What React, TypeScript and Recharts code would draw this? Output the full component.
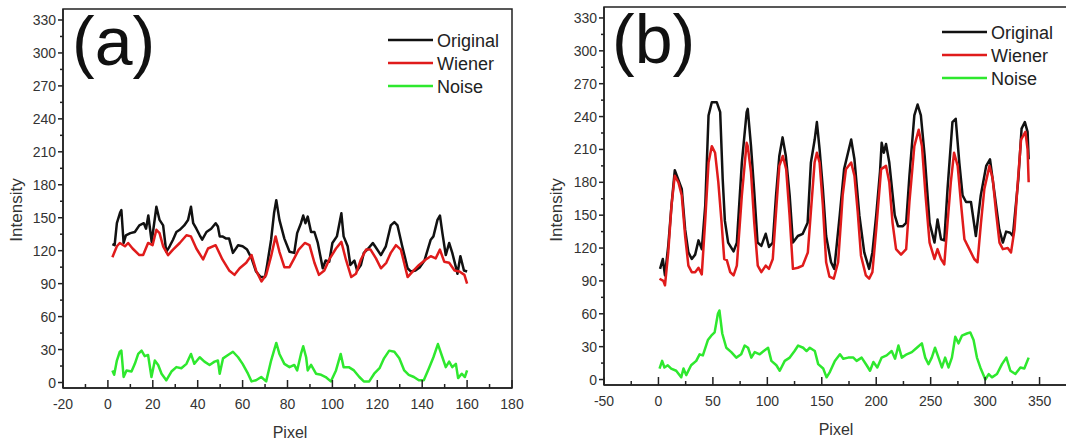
import { LineChart, Line, XAxis, YAxis, ReferenceArea } from "recharts";

const FONT = '"Liberation Sans", Arial, sans-serif';

// panel (a): [pixel, intensity]
const A_ORIGINAL: [number, number][] = [
  [2, 126], [3, 125], [4, 145], [5.5, 155], [6, 157], [7, 127], [8, 134], [10, 136], [12, 137], [14, 143],
  [16, 145], [17, 140], [18, 152], [19.5, 128], [21.6, 160], [23, 148], [24.6, 143], [26, 119], [27.5, 124],
  [29, 130], [30.5, 137], [32, 139], [34, 143], [35.7, 148], [37, 160], [38, 145], [39.4, 140], [40.9, 134],
  [42, 130], [43.9, 137], [46, 140], [48, 145], [49, 142], [49.8, 133], [51, 133], [52.7, 131], [54, 131],
  [55.7, 118], [58, 125], [60, 124], [62, 121], [64, 113], [66, 101], [68, 96], [70, 96], [71, 108],
  [72.7, 130], [74, 154], [75, 166], [76.4, 148], [78.6, 131], [80.9, 119], [83, 118], [84.3, 136], [86, 145],
  [87, 152], [88, 145], [89, 151], [90.5, 137], [92, 137], [93.5, 127], [95.7, 104], [97, 111], [98.6, 110],
  [100, 127], [102, 133], [104, 154], [105, 133], [106.8, 124], [108, 107], [109.8, 111], [111, 102],
  [112.7, 107], [114, 118], [116, 122], [118, 127], [119, 124], [121.6, 116], [123.8, 124], [126, 143],
  [127.6, 146], [129, 143], [131, 125], [133.5, 104], [135, 101], [137, 102], [139, 105], [141, 111],
  [143.8, 130], [145, 133], [146.8, 148], [147.9, 152], [149, 136], [150.5, 116], [152, 127], [153.4, 118],
  [155, 105], [155.7, 99], [157, 115], [158.6, 102], [160, 101],
];

const A_WIENER: [number, number][] = [
  [2, 114], [4, 124], [5.3, 127], [7.6, 124], [9, 127], [11, 122], [14, 116], [15.7, 116], [17.9, 127],
  [19.9, 125], [21.6, 139], [23, 136], [24.6, 124], [26.8, 116], [29, 121], [32, 127], [35, 134], [37, 133],
  [39.4, 122], [42.4, 112], [44.6, 122], [48, 125], [51, 112], [54, 102], [56.4, 98], [58.7, 104],
  [61.6, 109], [64, 116], [66, 102], [68.4, 92], [70.5, 98], [72.7, 115], [74.7, 133], [76.4, 119],
  [78.6, 105], [80.9, 105], [83, 113], [85, 121], [87.7, 127], [89.8, 125], [92, 109], [94, 98], [96.4, 102],
  [98.6, 112], [101.6, 122], [104, 128], [106, 112], [108.4, 96], [110.5, 99], [112.7, 112], [115, 121],
  [117, 121], [119.4, 113], [121.6, 104], [124, 109], [126, 118], [128.3, 125], [130.5, 121], [133.5, 96],
  [135.7, 101], [138.6, 107], [141.6, 112], [143.8, 115], [146, 113], [147.9, 121], [149.8, 110], [152, 109],
  [154.4, 102], [156.6, 101], [158.8, 98], [160, 90],
];

const A_NOISE: [number, number][] = [
  [2, 11], [2.8, 7], [4, 20], [5.3, 28], [6, 29], [7, 5], [8.3, 11], [10.5, 10], [12, 17], [13.5, 26],
  [15, 29], [16.4, 24], [17.9, 25], [19.4, 5], [20.9, 20], [22.4, 16], [23.9, 8], [26, 2], [28.3, 10],
  [30.5, 14], [32.7, 13], [35, 17], [37, 26], [38.5, 17], [40.9, 23], [43, 19], [45.3, 16], [47.5, 19],
  [49, 20], [49.8, 8], [51.3, 22], [53.5, 25], [55.7, 28], [58, 23], [60, 17], [62.4, 8], [64, 1], [66, 2],
  [68.3, 5], [70.5, 1], [72.7, 20], [75, 36], [76.4, 26], [78.6, 17], [80.9, 14], [83, 16], [84.3, 11],
  [86, 26], [87, 33], [88.3, 23], [89, 11], [90.5, 16], [92.7, 8], [95, 7], [97, 5], [99.3, 1], [101.6, 11],
  [103.7, 26], [105, 14], [107.3, 14], [109.6, 11], [112, 5], [114, 1], [116.4, 1], [118.6, 8], [121, 13],
  [123, 22], [125.3, 29], [127.6, 28], [129.8, 22], [132, 11], [134, 7], [136.3, 5], [138.5, 2], [140.7, 2],
  [143, 13], [145, 23], [147, 35], [149, 23], [150.5, 14], [152, 19], [153.4, 14], [155, 17], [156, 4],
  [157.6, 8], [159, 5], [160, 11],
];

// panel (b)
const B_ORIGINAL: [number, number][] = [
  [1.5, 101], [4, 110], [6, 95], [9, 122], [12, 159], [15, 191], [18, 183], [21.4, 174], [24.5, 137],
  [27.5, 116], [30.6, 110], [33.7, 114], [36.8, 127], [39.8, 119], [43, 159], [46, 241], [49, 253],
  [53.6, 253], [56.7, 244], [59, 183], [61, 145], [64, 125], [69, 117], [72, 125], [76.6, 198], [81, 244],
  [82, 247], [85, 213], [88, 171], [91, 125], [94.5, 122], [98.5, 133], [101.5, 121], [105, 125], [108, 168],
  [111, 204], [114, 221], [117, 204], [120.5, 168], [123.5, 125], [128, 131], [132.5, 133], [137, 143],
  [140, 198], [143.5, 219], [145.5, 235], [148, 210], [151, 174], [154, 131], [158.5, 107], [161.5, 101],
  [166.5, 150], [170.5, 192], [177, 219], [180, 201], [184.5, 150], [189, 116], [193.5, 101], [196.5, 116],
  [200, 150], [203.5, 190], [205, 216], [207, 207], [209, 215], [212, 198], [217, 150], [220, 140],
  [224.5, 140], [227.5, 143], [230.5, 186], [235, 241], [238, 251], [241, 241], [244.5, 204], [249, 143],
  [253.5, 125], [256.3, 146], [259.5, 128], [262.5, 127], [265.5, 174], [270, 235], [273, 238], [276.3, 198],
  [279.3, 168], [282.5, 162], [287, 162], [291.5, 131], [296, 168], [301, 195], [304.5, 201], [308.5, 171],
  [313, 137], [316.3, 125], [319.3, 135], [323, 134], [325.5, 131], [330.5, 183], [333.5, 229], [336.5, 235],
  [339, 226], [340, 201],
];

const B_WIENER: [number, number][] = [
  [1, 92], [4.5, 90], [6, 86], [9, 116], [12, 159], [15, 186], [18.3, 180], [21.4, 168], [24.5, 131],
  [27.5, 104], [30.6, 98], [33.7, 98], [36.8, 102], [39.8, 96], [43, 146], [46, 198], [49, 213], [52, 207],
  [55, 180], [58, 143], [60.4, 110], [62.8, 109], [65.9, 98], [69, 95], [72, 104], [76.6, 168], [81, 216],
  [82, 213], [85, 189], [88, 143], [91.2, 104], [94.5, 98], [98.5, 104], [101.5, 101], [105, 110], [108, 153],
  [111, 195], [114.2, 204], [117.3, 192], [120.4, 150], [123.5, 101], [128, 102], [132.5, 104], [137.2, 116],
  [140.2, 156], [143.4, 198], [145.5, 207], [148, 198], [151, 159], [154, 107], [157, 94], [161, 92],
  [165, 107], [168, 150], [169.2, 168], [172.2, 192], [177, 198], [180, 186], [183, 153], [186, 113],
  [190.5, 95], [193.5, 92], [196.5, 98], [200, 137], [204.5, 192], [209, 195], [212, 180], [215, 143],
  [218.2, 119], [222.8, 114], [227.5, 119], [230.5, 162], [235, 213], [239, 228], [242, 213], [245.3, 168],
  [249, 125], [253.5, 110], [256.3, 119], [259.5, 110], [262.5, 105], [265.5, 143], [268.5, 180],
  [271.5, 207], [274.8, 195], [278, 159], [281, 128], [285.5, 119], [290, 110], [293, 107], [296.2, 143],
  [299.3, 174], [304, 195], [307, 183], [310, 153], [313.2, 125], [316.3, 119], [320.8, 120], [323.8, 116],
  [327, 137], [330, 180], [333, 219], [337, 226], [339, 210], [340, 180],
];

const B_NOISE: [number, number][] = [
  [1, 10], [3.4, 17], [5.5, 11], [8.6, 13], [11.7, 10], [16.3, 8], [20.9, 2], [23, 10], [25.5, 4], [30, 13],
  [34.7, 17], [37.8, 23], [40.8, 22], [45.4, 36], [48.5, 40], [51.6, 43], [54.6, 60], [56, 63], [58.6, 42],
  [62.3, 29], [66.9, 25], [71.5, 20], [76, 23], [79.2, 31], [82.3, 29], [85.3, 20], [88.4, 25], [93, 23],
  [96.7, 26], [100.7, 29], [103.7, 17], [108.3, 13], [111.4, 8], [116, 17], [120.6, 20], [125, 26],
  [128.3, 31], [132.9, 29], [136, 26], [139, 29], [143.6, 26], [146.7, 14], [151.3, 10], [154.4, 2],
  [157.5, 7], [162, 17], [166.7, 23], [169.7, 19], [174.3, 20], [179, 20], [182, 17], [186.6, 20],
  [191.2, 13], [194.3, 8], [197.4, 16], [201, 11], [205, 20], [209.6, 22], [214.2, 26], [217.3, 19],
  [220.4, 31], [223.5, 20], [228, 23], [232.7, 25], [237.3, 29], [241.9, 33], [245, 20], [248, 14], [251, 20],
  [254, 29], [257.2, 20], [260.3, 11], [263.3, 20], [266.4, 11], [269.5, 20], [272.6, 39], [275.6, 33],
  [278.7, 40], [283.3, 42], [286.4, 43], [289.4, 36], [292.5, 20], [295.6, 11], [300.2, 0], [303.3, 5],
  [306.3, 2], [310.9, 5], [315.5, 14], [319.5, 20], [323.2, 8], [327.8, 5], [332.4, 11], [336, 10], [340, 20],
];

const Y_TICKS = [0, 15, 30, 45, 60, 75, 90, 105, 120, 135, 150, 165, 180, 195, 210, 225, 240, 255, 270, 285, 300, 315, 330];
const A_X_TICKS = [-20, -10, 0, 10, 20, 30, 40, 50, 60, 70, 80, 90, 100, 110, 120, 130, 140, 150, 160, 170, 180];
const B_X_TICKS = [-50, -25, 0, 25, 50, 75, 100, 125, 150, 175, 200, 225, 250, 275, 300, 325, 350];
const SERIES = ["Original", "Wiener", "Noise"];
const COLORS = ["#111111", "#e01b1b", "#2ee82e"];

const toPts = (arr: [number, number][]) => arr.map(([x, y]) => ({ x, y }));

function XTick(props: any) {
  const { x, y, payload, step } = props;
  const major = payload.value % step === 0;
  return (
    <g>
      <line x1={x} x2={x} y1={y} y2={y - (major ? 8 : 4)} stroke="#222" strokeWidth={1.5} />
      {major && (
        <text x={x} y={y + 21} textAnchor="middle" fontSize={14} fill="#333" fontFamily={FONT}>
          {payload.value}
        </text>
      )}
    </g>
  );
}

function YTick(props: any) {
  const { x, y, payload } = props;
  const major = payload.value % 30 === 0;
  return (
    <g>
      <line x1={x} x2={x - (major ? 5 : 3)} y1={y} y2={y} stroke="#222" strokeWidth={1.5} />
      {major && (
        <text x={x - 7} y={y + 5} textAnchor="end" fontSize={14} fill="#333" fontFamily={FONT}>
          {payload.value}
        </text>
      )}
    </g>
  );
}

function Panel({ left, width, top, axisW, axisH, right, xDomain, xTicks, step, series }: any) {
  return (
    <div style={{ position: "absolute", left, top: 0 }}>
      <LineChart width={width} height={441} margin={{ top, right, left: 0, bottom: 0 }}>
        <XAxis
          type="number" dataKey="x" domain={xDomain} ticks={xTicks} interval={0} allowDataOverflow
          height={axisH} tickSize={0} tickMargin={0} tickLine={false}
          axisLine={{ stroke: "#222", strokeWidth: 1.5 }} tick={<XTick step={step} />}
        />
        <YAxis
          type="number" dataKey="y" domain={[-5, 340]} ticks={Y_TICKS} interval={0} allowDataOverflow
          width={axisW} tickSize={0} tickMargin={0} tickLine={false}
          axisLine={{ stroke: "#222", strokeWidth: 1.5 }} tick={<YTick />}
        />
        <ReferenceArea x1={xDomain[0]} x2={xDomain[1]} y1={-5} y2={340} fill="none" stroke="#222" strokeWidth={1.5} ifOverflow="visible" />
        {series.map((s: [number, number][], i: number) => (
          <Line
            key={SERIES[i]} data={toPts(s)} dataKey="y" name={SERIES[i]} type="linear"
            stroke={COLORS[i]} strokeWidth={2.5} strokeLinejoin="round" dot={false} isAnimationActive={false}
          />
        ))}
      </LineChart>
    </div>
  );
}

function Legend({ x, y }: { x: number; y: number }) {
  return (
    <g>
      {SERIES.map((name, i) => (
        <g key={name}>
          <line x1={x} x2={x + 45} y1={y + i * 23} y2={y + i * 23} stroke={COLORS[i]} strokeWidth={2.5} />
          <text x={x + 49} y={y + i * 23 + 6.5} fontSize={18} fill="#222" fontFamily={FONT}>{name}</text>
        </g>
      ))}
    </g>
  );
}

export default function App() {
  return (
    <div style={{ position: "absolute", left: 0, top: 0, width: 1066, height: 441, overflow: "hidden", background: "#fff" }}>
      <Panel left={0} width={540} top={9} right={28} axisW={63} axisH={53}
        xDomain={[-20, 180]} xTicks={A_X_TICKS} step={20} series={[A_ORIGINAL, A_WIENER, A_NOISE]} />
      <Panel left={540} width={580} top={7} right={26} axisW={64} axisH={56}
        xDomain={[-50, 400]} xTicks={B_X_TICKS} step={50} series={[B_ORIGINAL, B_WIENER, B_NOISE]} />
      <svg width={1066} height={441} style={{ position: "absolute", left: 0, top: 0, pointerEvents: "none" }}>
        <text x={72} y={65} fontSize={68} fontFamily={FONT} fill="#111">(a)</text>
        <text x={612} y={63} fontSize={68} fontFamily={FONT} fill="#111">(b)</text>
        <text transform="translate(22,210) rotate(-90)" textAnchor="middle" fontSize={17} fill="#333" fontFamily={FONT}>Intensity</text>
        <text transform="translate(562,210) rotate(-90)" textAnchor="middle" fontSize={17} fill="#333" fontFamily={FONT}>Intensity</text>
        <text x={290} y={438} textAnchor="middle" fontSize={16} fill="#333" fontFamily={FONT}>Pixel</text>
        <text x={836} y={435} textAnchor="middle" fontSize={16} fill="#333" fontFamily={FONT}>Pixel</text>
        <Legend x={388} y={40} />
        <Legend x={942} y={32} />
      </svg>
    </div>
  );
}
